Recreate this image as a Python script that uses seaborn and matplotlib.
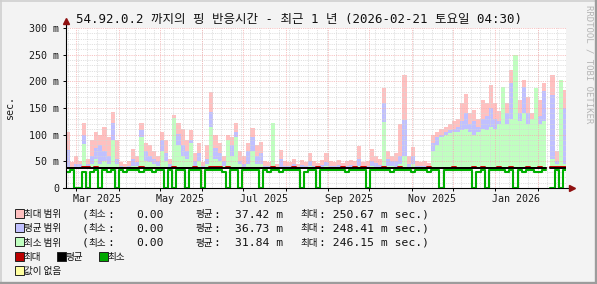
import matplotlib
matplotlib.use("Agg")
import matplotlib.pyplot as plt
from matplotlib.lines import Line2D
from matplotlib.patches import Rectangle
import numpy as np
import pandas as pd
import seaborn as sns

nan = np.nan

# ---------------- data ----------------
START = pd.Timestamp("2025-02-21 04:30")
END = pd.Timestamp("2026-02-21 04:30")
BIN_DAYS = 3

# top of the "max range" band (ms), one value per 3-day bin
max_range = [
    105, 48, 60, 50, 121, 55, 90, 105, 100, 115,
    95, 143, 90, 48, 45, 50, 74, 60, 121, 84,
    80, 70, 60, 105, 90, 55, 137, 121, 110, 90,
    109, 65, 85, 48, 80, 180, 100, 85, 60, 100,
    96, 121, 70, 60, 85, 112, 80, 87, 50, 48,
    121, 45, 71, 50, 48, 55, 45, 52, 48, 65,
    50, 47, 52, 65, 50, 48, 52, 46, 50, 52,
    50, 78, 48, 50, 73, 60, 55, 187, 70, 60,
    65, 120, 212, 60, 77, 50, 48, 50, 46, 100,
    105, 110, 115, 120, 125, 130, 160, 177, 140, 146,
    130, 165, 160, 193, 159, 145, 190, 160, 221, 250,
    165, 203, 170, 140, 188, 165, 196, nan, 212, 70,
    200, 184,
]
# top of the "avg range" band
avg_range = [
    72, 40, 45, 45, 100, 45, 60, 75, 80, 70,
    60, 121, 55, 42, 40, 42, 55, 48, 108, 70,
    60, 55, 50, 90, 65, 45, 100, 102, 80, 70,
    90, 50, 65, 42, 55, 143, 75, 65, 50, 80,
    80, 105, 50, 45, 70, 95, 60, 65, 42, 42,
    50, 40, 55, 42, 42, 45, 40, 44, 42, 50,
    42, 40, 44, 48, 42, 42, 44, 40, 42, 44,
    42, 55, 42, 42, 50, 46, 44, 159, 55, 50,
    50, 60, 128, 45, 60, 42, 42, 42, 40, 85,
    95, 100, 105, 108, 110, 115, 125, 140, 120, 125,
    115, 130, 135, 150, 130, 125, 150, 140, 196, 180,
    140, 190, 140, 125, 150, 135, 181, nan, 175, 50,
    150, 150,
]
# top of the "min range" band
min_range = [
    40, 38, 40, 40, 83, 40, 45, 55, 45, 50,
    45, 90, 45, 38, 38, 38, 42, 42, 95, 50,
    48, 45, 42, 70, 50, 40, 131, 80, 60, 55,
    85, 42, 50, 38, 45, 115, 55, 50, 42, 90,
    60, 95, 45, 40, 45, 70, 45, 45, 38, 38,
    121, 38, 40, 38, 38, 40, 38, 40, 38, 42,
    38, 38, 40, 42, 38, 38, 40, 38, 38, 40,
    38, 42, 38, 38, 42, 40, 40, 124, 42, 42,
    40, 45, 60, 40, 45, 38, 38, 38, 38, 70,
    80, 95, 100, 103, 105, 105, 108, 110, 105, 100,
    105, 110, 108, 115, 110, 120, 190, 120, 130, 250,
    125, 140, 120, 130, 188, 120, 125, nan, 55, 45,
    202, 45,
]
range_floor = 36

max_line = [
    37.5, 37.5, 37.5, 37.5, 39, 39, 37.5, 39, 37.5, 37.5,
    37.5, 37.5, 37.5, 37.5, 37.5, 37.5, 37.5, 37.5, 39, 37.5,
    37.5, 37.5, 37.5, 37.5, 37.5, 37.5, 39, 37.5, 37.5, 37.5,
    37.5, 39, 37.5, 37.5, 37.5, 39, 39, 39, 37.5, 39,
    37.5, 37.5, 37.5, 37.5, 37.5, 37.5, 37.5, 37.5, 37.5, 37.5,
    39, 37.5, 37.5, 37.5, 37.5, 39, 37.5, 37.5, 37.5, 37.5,
    37.5, 39, 37.5, 37.5, 37.5, 37.5, 37.5, 39, 37.5, 37.5,
    39, 37.5, 39, 37.5, 37.5, 37.5, 37.5, 39, 37.5, 37.5,
    37.5, 39, 37.5, 37.5, 37.5, 37.5, 37.5, 37.5, 39, 37.5,
    37.5, 37.5, 37.5, 37.5, 39, 37.5, 37.5, 37.5, 37.5, 39,
    37.5, 39, 37.5, 37.5, 37.5, 39, 37.5, 37.5, 39, 37.5,
    37.5, 37.5, 39, 37.5, 37.5, 39, 37.5, nan, 39, 39,
    39, 39,
]
avg_line = [
    37.5, 37.5, 37.5, 37.5, 37.5, 37.5, 37.5, 37.5, 37.5, 37.5,
    37.5, 37.5, 37.5, 37.5, 37.5, 37.5, 37.5, 37.5, 37.5, 37.5,
    37.5, 37.5, 37.5, 37.5, 37.5, 37.5, 37.5, 37.5, 37.5, 37.5,
    37.5, 37.5, 37.5, 37.5, 37.5, 37.5, 37.5, 37.5, 37.5, 37.5,
    37.5, 37.5, 37.5, 37.5, 37.5, 37.5, 37.5, 37.5, 37.5, 37.5,
    37.5, 37.5, 37.5, 37.5, 37.5, 37.5, 37.5, 37.5, 37.5, 37.5,
    37.5, 37.5, 37.5, 37.5, 37.5, 37.5, 37.5, 37.5, 37.5, 37.5,
    37.5, 37.5, 37.5, 37.5, 37.5, 37.5, 37.5, 37.5, 37.5, 37.5,
    37.5, 37.5, 37.5, 37.5, 37.5, 37.5, 37.5, 37.5, 37.5, 37.5,
    37.5, 37.5, 37.5, 37.5, 37.5, 37.5, 37.5, 37.5, 37.5, 37.5,
    37.5, 37.5, 37.5, 37.5, 37.5, 37.5, 37.5, 37.5, 37.5, 37.5,
    37.5, 37.5, 37.5, 37.5, 37.5, 37.5, 37.5, nan, 37.5, 37.5,
    37.5, 37.5,
]
min_line = [
    30.5, 33.5, 0, 0, 30.5, 0, 30.5, 33.5, 0, 33.5,
    30.5, 33.5, 0, 33.5, 30.5, 33.5, 33.5, 33.5, 30.5, 33.5,
    33.5, 30.5, 33.5, 33.5, 0, 33.5, 0, 33.5, 33.5, 0,
    33.5, 33.5, 33.5, 0, 33.5, 33.5, 33.5, 33.5, 30.5, 0,
    33.5, 33.5, 0, 33.5, 33.5, 33.5, 33.5, 0, 33.5, 30.5,
    33.5, 33.5, 30.5, 33.5, 33.5, 33.5, 33.5, 0, 30.5, 33.5,
    33.5, 0, 33.5, 33.5, 33.5, 33.5, 33.5, 33.5, 30.5, 33.5,
    33.5, 33.5, 33.5, 0, 33.5, 33.5, 33.5, 33.5, 33.5, 30.5,
    33.5, 33.5, 33.5, 33.5, 30.5, 33.5, 33.5, 33.5, 30.5, 33.5,
    33.5, 0, 33.5, 33.5, 33.5, 33.5, 33.5, 33.5, 33.5, 0,
    30.5, 33.5, 0, 33.5, 33.5, 33.5, 33.5, 30.5, 33.5, 0,
    33.5, 30.5, 33.5, 33.5, 30.5, 30.5, 33.5, nan, 0, 33.5,
    0, 33.5,
]

y_ticks = [0, 50, 100, 150, 200, 250, 300]
y_tick_labels = ["0", "50 m", "100 m", "150 m", "200 m", "250 m", "300 m"]
x_label_dates = ["2025-03-16", "2025-05-16", "2025-07-16", "2025-09-16", "2025-11-16", "2026-01-16"]
x_tick_labels = ["Mar 2025", "May 2025", "Jul 2025", "Sep 2025", "Nov 2025", "Jan 2026"]

title = "54.92.0.2 까지의 핑 반응시간 - 최근 1 년 (2026-02-21 토요일 04:30)"
y_label = "sec."
watermark = "RRDTOOL / TOBI OETIKER"

legend_names = ["최대 범위", "평균 범위", "최소 범위"]
legend_min = ["0.00", "0.00", "0.00"]
legend_avg = ["37.42 m", "36.73 m", "31.84 m"]
legend_max = ["250.67 m sec.)", "248.41 m sec.)", "246.15 m sec.)"]
line_names = ["최대", "평균", "최소"]
nodata_name = "값이 없음"

# ---------------- style ----------------
W, H = 597, 284
BG = "#F3F3F3"
C_MAXR, C_AVGR, C_MINR = "#FFC0C0", "#C0C0FF", "#C0FFC0"
C_MAXL, C_AVGL, C_MINL = "#CC0000", "#000000", "#00B000"
C_NODATA = "#FFFFA0"
MGRID = "#F5B0B0"
GRID = "#D6D6D6"
MONO = ["DejaVu Sans Mono", "Noto Sans CJK KR"]
CJK = ["Noto Sans CJK KR", "DejaVu Sans"]

sns.set_theme(style="white")
plt.rcParams["font.family"] = MONO
plt.rcParams["axes.unicode_minus"] = False

fig = plt.figure(figsize=(W / 100, H / 100), dpi=100, facecolor=BG)
ax = fig.add_axes([65.5 / W, (H - 188) / H, 500 / W, 160 / H])
ax.set_facecolor("white")

n = len(max_range)
bin_start = np.arange(n) * BIN_DAYS
df = pd.DataFrame({
    "day": bin_start + BIN_DAYS / 2,
    "max_range": max_range, "avg_range": avg_range, "min_range": min_range,
})

for col, colr in [("max_range", C_MAXR), ("avg_range", C_AVGR), ("min_range", C_MINR)]:
    d = df.dropna(subset=[col]).copy()
    d["h"] = d[col] - range_floor
    sns.barplot(data=d, x="day", y="h", native_scale=True, width=1.0, color=colr,
                saturation=1, errorbar=None, linewidth=0, edgecolor="none",
                bottom=range_floor, ax=ax, zorder=1)


def step_frame(vals):
    rows, seg, last, open_ = [], 0, None, False
    for i, v in enumerate(vals):
        if np.isnan(v):
            if open_:
                rows.append((i * BIN_DAYS, last, seg))
                seg += 1
            open_ = False
            continue
        rows.append((i * BIN_DAYS, v, seg))
        last, open_ = v, True
    if open_:
        rows.append((len(vals) * BIN_DAYS, last, seg))
    return pd.DataFrame(rows, columns=["day", "val", "seg"])


for vals, colr, lw, z in [(max_line, C_MAXL, 1.4, 3), (avg_line, C_AVGL, 1.4, 4), (min_line, C_MINL, 1.5, 5)]:
    f = step_frame(vals)
    sns.lineplot(data=f, x="day", y="val", units="seg", estimator=None,
                 drawstyle="steps-post", color=colr, linewidth=lw, legend=False,
                 ax=ax, zorder=z)

total_days = (END - START) / pd.Timedelta(days=1)
ax.set_xlim(0, total_days)
ax.set_ylim(0, 300)
ax.set_xlabel("")
ax.set_ylabel("")

# grid (drawn over the areas like rrdtool)
dots = (0, (1, 1.2))
weeks = pd.date_range(START.normalize(), END, freq="W-SUN")
for w in weeks:
    xd = (w - START) / pd.Timedelta(days=1)
    if 0 < xd < total_days:
        ax.axvline(xd, color=GRID, lw=0.6, ls=dots, zorder=1.5)
for yv in range(10, 301, 10):
    if yv % 50:
        ax.axhline(yv, color=GRID, lw=0.6, ls=dots, zorder=1.5)
months = pd.date_range("2025-03-01", END, freq="MS")
month_days = [(m - START) / pd.Timedelta(days=1) for m in months]
for xd in month_days:
    ax.axvline(xd, color=MGRID, lw=0.6, ls=dots, zorder=1.6)
for yv in y_ticks[1:]:
    ax.axhline(yv, color=MGRID, lw=0.6, ls=dots, zorder=1.6)

# ticks
ax.set_xticks(month_days)
ax.set_xticklabels([])
ax.set_xticks([(pd.Timestamp(d) - START) / pd.Timedelta(days=1) for d in x_label_dates], minor=True)
ax.set_xticklabels(x_tick_labels, minor=True)
ax.tick_params(axis="x", which="major", bottom=True, length=2.5, width=0.7, color="black", direction="out")
ax.tick_params(axis="x", which="minor", bottom=True, length=0, pad=4, labelsize=7.2, labelcolor="#1a1a1a")
ax.set_yticks(y_ticks)
ax.set_yticklabels(y_tick_labels)
ax.tick_params(axis="y", left=True, length=2.5, width=0.7, color="black", pad=2, labelsize=7.2,
               labelcolor="#1a1a1a", direction="out")

for s in ax.spines.values():
    s.set_visible(False)
ax.plot([0, 0], [0, 1 + 6 / 160], transform=ax.transAxes, color="black", lw=0.8, clip_on=False, zorder=6)
ax.plot([-3 / 500, 1 + 5 / 500], [0, 0], transform=ax.transAxes, color="black", lw=0.8, clip_on=False, zorder=6)
ax.plot([0], [1 + 7 / 160], marker="^", ms=4, color="#8F1010", transform=ax.transAxes, clip_on=False, zorder=7)
ax.plot([1 + 6 / 500], [0], marker=">", ms=4, color="#8F1010", transform=ax.transAxes, clip_on=False, zorder=7)


def fx(x):
    return x / W


def fy(y):
    return 1 - y / H


# title, y label, watermark
fig.text(fx(298.5), fy(19), title, ha="center", va="center", fontsize=9, family=MONO, color="#111111")
fig.text(fx(10), fy(108), y_label, rotation=90, ha="center", va="center", fontsize=7.2, family=MONO, color="#1a1a1a")
fig.text(fx(589), fy(5), watermark, rotation=-90, ha="center", va="top", fontsize=6.5,
         family=MONO, color="#B5B5B5")

# legend


def square(x, y, c):
    fig.add_artist(Rectangle((fx(x), fy(y + 9)), 9 / W, 9 / H, transform=fig.transFigure,
                             facecolor=c, edgecolor="#222222", lw=0.7))


def mono(x, y, s, ha="left"):
    fig.text(fx(x), fy(y), s, ha=ha, va="baseline", fontsize=8.2, family=MONO, color="#111111")


def cjk(x, y, s):
    fig.text(fx(x), fy(y), s, ha="left", va="baseline", fontsize=6.9, family=CJK, color="#111111")


row_y = [213.5, 227.5, 241.8]
for name, mn, av, mx, c, yc in zip(legend_names, legend_min, legend_avg, legend_max,
                                   [C_MAXR, C_AVGR, C_MINR], row_y):
    square(15, yc - 4.5, c)
    base = yc + 4
    cjk(23.5, base, name)
    mono(81.5, base, "(")
    cjk(88.2, base, "최소")
    mono(107.2, base, ":")
    mono(163.5, base, mn, ha="right")
    cjk(195, base, "평균")
    mono(213.5, base, ":")
    mono(235, base, av)
    cjk(300, base, "최대")
    mono(319, base, ": " + mx)

yc = 256
for xs, name, c in zip([15, 57, 99], line_names, ["#BB0000", "#000000", "#00A800"]):
    square(xs, yc - 4.5, c)
    cjk(xs + 8.5, yc + 4, name)
square(15, 270 - 4.5, C_NODATA)
cjk(23.5, 274, nodata_name)

# frame
fig.add_artist(Line2D([0, 1], [fy(0.7)] * 2, transform=fig.transFigure, color="#CFCFCF", lw=1.2))
fig.add_artist(Line2D([fx(0.7)] * 2, [0, 1], transform=fig.transFigure, color="#CFCFCF", lw=1.2))
fig.add_artist(Line2D([0, 1], [fy(282.8)] * 2, transform=fig.transFigure, color="#9C9C9C", lw=1.7))
fig.add_artist(Line2D([fx(595.8)] * 2, [0, 1], transform=fig.transFigure, color="#9C9C9C", lw=1.7))

fig.savefig("out.png", dpi=100, facecolor=BG)
